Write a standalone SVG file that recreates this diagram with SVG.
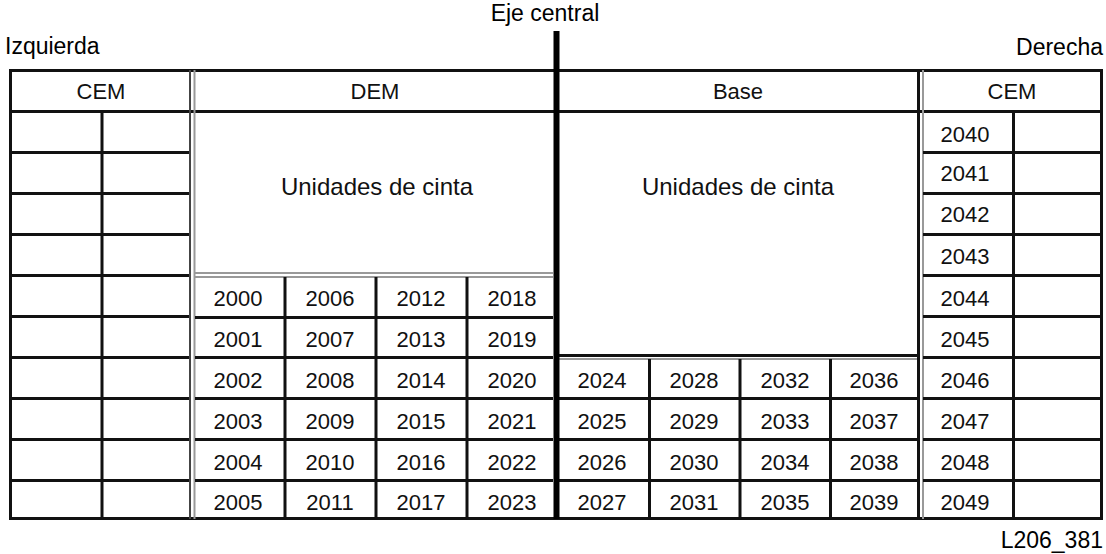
<svg xmlns="http://www.w3.org/2000/svg" width="1106" height="554" viewBox="0 0 1106 554">
<style>
.t{font-family:"Liberation Sans",Arial,sans-serif;font-size:22px;fill:#111;text-anchor:middle}
.u{font-size:24px}
.lbl{font-family:"Liberation Sans",Arial,sans-serif;font-size:23px;fill:#000}
.k{stroke:#111;stroke-width:3;fill:none}
.g{stroke:#999;stroke-width:2;fill:none}
.d{stroke:#444;stroke-width:2;fill:none}
</style>
<rect width="1106" height="554" fill="#fff"/>
<g id="labels">
<text class="lbl" x="5" y="54">Izquierda</text>
<text class="lbl" x="1103" y="55" text-anchor="end">Derecha</text>
<text class="lbl" x="545" y="21" text-anchor="middle" font-size="24.5">Eje central</text>
<text class="lbl" x="1103" y="548" text-anchor="end" font-size="20">L206_381</text>
</g>
<g id="frame">
<rect class="k" x="10.5" y="70.5" width="1091" height="448"/>
<line class="k" x1="10" y1="111.5" x2="1102" y2="111.5"/>
</g>
<g id="left-cem">
<text class="t" x="101" y="99">CEM</text>
<line class="k" x1="102" y1="111" x2="102" y2="519"/>
<path class="k" d="M10 152.5H190M10 193.5H190M10 234.5H190M10 275.5H190M10 316.5H190M10 357.5H190M10 398.5H190M10 439.5H190M10 480.5H190"/>
<line class="d" x1="190" y1="70" x2="190" y2="519"/>
<line class="g" x1="194.5" y1="70" x2="194.5" y2="519"/>
</g>
<g id="dem">
<text class="t" x="375" y="99">DEM</text>
<text class="t u" x="377" y="195">Unidades de cinta</text>
<line class="g" x1="195" y1="273" x2="553" y2="273"/>
<line class="g" x1="195" y1="277" x2="553" y2="277"/>
<path class="k" d="M195 317.5H553M195 357.5H553M195 398.5H553M195 439.5H553M195 480.5H553M285 277V519M376 277V519M467 277V519"/>
<g class="t">
<text x="238" y="306">2000</text><text x="238" y="347">2001</text><text x="238" y="388">2002</text><text x="238" y="429">2003</text><text x="238" y="470">2004</text><text x="238" y="510">2005</text>
<text x="330" y="306">2006</text><text x="330" y="347">2007</text><text x="330" y="388">2008</text><text x="330" y="429">2009</text><text x="330" y="470">2010</text><text x="330" y="510">2011</text>
<text x="421" y="306">2012</text><text x="421" y="347">2013</text><text x="421" y="388">2014</text><text x="421" y="429">2015</text><text x="421" y="470">2016</text><text x="421" y="510">2017</text>
<text x="512" y="306">2018</text><text x="512" y="347">2019</text><text x="512" y="388">2020</text><text x="512" y="429">2021</text><text x="512" y="470">2022</text><text x="512" y="510">2023</text>
</g>
</g>
<g id="base">
<text class="t" x="738" y="99">Base</text>
<text class="t u" x="738" y="195">Unidades de cinta</text>
<line class="k" x1="559" y1="355.5" x2="918" y2="355.5"/>
<line class="g" x1="559" y1="359" x2="918" y2="359"/>
<path class="k" d="M559 398.5H918M559 439.5H918M559 480.5H918M649.5 359V519M740 359V519M830.5 359V519"/>
<g class="t">
<text x="602" y="388">2024</text><text x="602" y="429">2025</text><text x="602" y="470">2026</text><text x="602" y="510">2027</text>
<text x="694" y="388">2028</text><text x="694" y="429">2029</text><text x="694" y="470">2030</text><text x="694" y="510">2031</text>
<text x="785" y="388">2032</text><text x="785" y="429">2033</text><text x="785" y="470">2034</text><text x="785" y="510">2035</text>
<text x="874" y="388">2036</text><text x="874" y="429">2037</text><text x="874" y="470">2038</text><text x="874" y="510">2039</text>
</g>
</g>
<g id="right-cem">
<line class="k" x1="918.5" y1="70" x2="918.5" y2="519"/>
<line class="g" x1="923" y1="70" x2="923" y2="519"/>
<text class="t" x="1012" y="99">CEM</text>
<line class="k" x1="1013.5" y1="111" x2="1013.5" y2="519"/>
<path class="k" d="M923 152.5H1102M923 193.5H1102M923 234.5H1102M923 275.5H1102M923 316.5H1102M923 357.5H1102M923 398.5H1102M923 439.5H1102M923 480.5H1102"/>
<g class="t">
<text x="965" y="142">2040</text><text x="965" y="181">2041</text><text x="965" y="222">2042</text><text x="965" y="264">2043</text><text x="965" y="306">2044</text>
<text x="965" y="347">2045</text><text x="965" y="388">2046</text><text x="965" y="429">2047</text><text x="965" y="470">2048</text><text x="965" y="510">2049</text>
</g>
</g>
<g id="connectors">
<line x1="556.5" y1="31" x2="556.5" y2="519" stroke="#000" stroke-width="6"/>
</g>
</svg>
